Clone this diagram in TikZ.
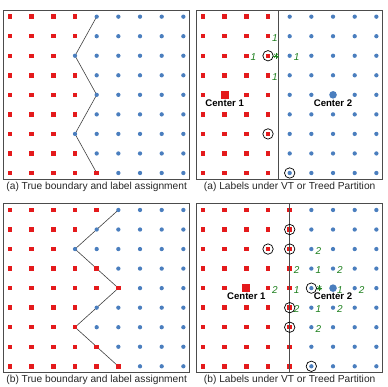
\documentclass[tikz,border=0pt]{standalone}
\usepackage{fontspec}
\setmainfont{Liberation Sans}
\usetikzlibrary{backgrounds}
\definecolor{ptred}{RGB}{228,26,28}
\definecolor{ptblue}{RGB}{74,126,190}
\definecolor{lblgreen}{RGB}{30,128,30}
\newcommand\ptgrid[2]{\foreach \j/\k in {#2}\foreach \i in {0,...,8}{\ifnum\i>\k\relax\node[bpt] (#1-\i-\j) at (\i,\j){};\else\node[rpt] (#1-\i-\j) at (\i,\j){};\fi}}
\begin{document}
\begin{tikzpicture}[x=21.67pt,y=19.54pt,
  rpt/.style={fill=ptred,inner sep=0pt,minimum size=4.5pt},
  bpt/.style={circle,fill=ptblue,inner sep=0pt,minimum size=4.3pt},
  rbig/.style={fill=ptred,inner sep=0pt,minimum size=7.8pt},
  bbig/.style={circle,fill=ptblue,inner sep=0pt,minimum size=7.6pt},
  ring/.style={circle,draw=black,line width=.7pt,inner sep=0pt,minimum size=10.4pt},
  frm/.style={draw=black!70,line width=.8pt},
  bnd/.style={draw=black!75,line width=.6pt},
  lbl/.style={text=lblgreen,font=\itshape,xshift=7pt,yshift=-1.5pt,inner sep=0pt},
  ctr/.style={font=\fontsize{9.6}{11}\selectfont\bfseries,inner sep=0pt},
  captxt/.style={below=3pt,inner sep=0pt,text=black!85,font=\fontsize{10.2}{12}\selectfont},
  ast/.pic={\foreach \a in {0,45,90,135}\draw[lblgreen,line width=.5pt] (\a:2.8pt)--(\a:-2.8pt);}]
\useasboundingbox (0pt,0pt) rectangle (387pt,387pt);
\begin{scope}[shift={(10pt,214pt)}]
\draw[frm] (-.3,-.31) rectangle (8.3,8.33);
\ptgrid{tl}{0/4,1/3,2/2,3/3,4/3,5/3,6/2,7/3,8/3}
\begin{scope}[on background layer]
\draw[bnd] (tl-4-8.center)--(tl-3-6.center)--(tl-4-4.center)--(tl-3-2.center)--(tl-4-0.center);
\end{scope}
\node[captxt] (tl-cap) at (4,-.31){(a) True boundary and label assignment};
\end{scope}
\begin{scope}[shift={(203pt,214pt)}]
\draw[frm] (-.3,-.31) rectangle (8.3,8.33);
\ptgrid{tr}{0/3,1/3,2/3,3/3,4/3,5/3,6/3,7/3,8/3}
\node[rbig] (tr-c1) at (1,4){}; \node[bbig] (tr-c2) at (6,4){};
\coordinate (tr-top) at (3.5,8.33); \coordinate (tr-bot) at (3.5,-.31);
\draw[frm] (tr-top)--(tr-bot);
\foreach \p in {3-6,3-2,4-0}\node[ring] (tr-r\p) at (tr-\p){};
\foreach \p in {2-6,3-7,4-6,3-5}\node[lbl] (tr-l\p) at (tr-\p){1};
\pic[xshift=8pt] at (tr-3-6) {ast};
\node[ctr] (tr-t1) at (1,3.57){Center 1}; \node[ctr] (tr-t2) at (6,3.57){Center 2};
\node[captxt] (tr-cap) at (4,-.31){(a) Labels under VT or Treed Partition};
\end{scope}
\begin{scope}[shift={(10pt,20.7pt)}]
\draw[frm] (-.3,-.31) rectangle (8.3,8.33);
\ptgrid{bl}{0/5,1/4,2/3,3/3,4/5,5/4,6/2,7/3,8/4}
\begin{scope}[on background layer]
\draw[bnd] (bl-5-8.center)--(bl-4-7.center)--(bl-3-6.center)--(bl-4-5.center)--(bl-5-4.center)
  --(bl-4-3.center)--(bl-3-2.center)--(bl-4-1.center)--(bl-5-0.center);
\end{scope}
\node[captxt] (bl-cap) at (4,-.31){(b) True boundary and label assignment};
\end{scope}
\begin{scope}[shift={(203pt,20.7pt)}]
\draw[frm] (-.3,-.31) rectangle (8.3,8.33);
\ptgrid{br}{0/4,1/4,2/4,3/4,4/4,5/4,6/4,7/4,8/4}
\node[rbig] (br-c1) at (2,4){}; \node[bbig] (br-c2) at (6,4){};
\coordinate (br-top) at (4,8.33); \coordinate (br-bot) at (4,-.31);
\draw[frm] (br-top)--(br-bot);
\foreach \p in {4-7,4-6,3-6,4-3,4-2,5-4,5-0}\node[ring] (br-r\p) at (br-\p){};
\foreach \p/\t in {5-6/2,4-5/2,5-5/1,6-5/2,3-4/2,4-4/1,6-4/1,7-4/2,4-3/2,5-3/1,6-3/2,5-2/2}
  \node[lbl] (br-l\p) at (br-\p){\t};
\pic[xshift=8pt] at (br-5-4) {ast};
\node[ctr] (br-t1) at (2,3.57){Center 1}; \node[ctr] (br-t2) at (6,3.57){Center 2};
\node[captxt] (br-cap) at (4,-.31){(b) Labels under VT or Treed Partition};
\end{scope}
\end{tikzpicture}
\end{document}
